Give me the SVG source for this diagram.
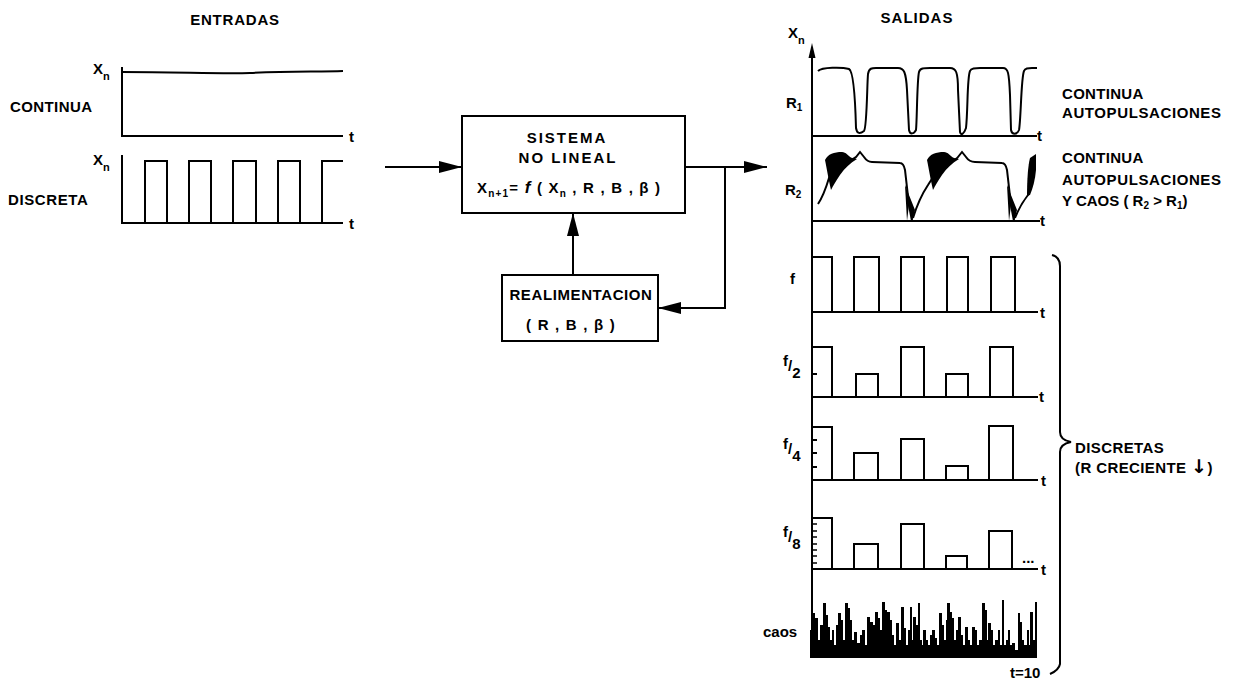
<svg xmlns="http://www.w3.org/2000/svg" width="1239" height="683" viewBox="0 0 1239 683">
<style>
.ln{fill:none;stroke:#000;stroke-width:2}
.th{fill:none;stroke:#000;stroke-width:1.6}
.fl{fill:#000;stroke:none}
.t{font-family:"Liberation Sans",Arial,sans-serif;font-weight:bold;fill:#000;font-size:15px}
.tc{text-anchor:middle}
</style>
<defs>
<marker id="ah" markerUnits="userSpaceOnUse" markerWidth="24" markerHeight="12" refX="23" refY="6" orient="auto">
<path d="M0,0 L23,6 L0,12 Z" fill="#000"/>
</marker>
</defs>
<rect width="1239" height="683" fill="#fff"/>

<g id="entradas">
<text class="t tc" x="235" y="25" font-size="16" letter-spacing="0.8">ENTRADAS</text>
<text class="t" x="93" y="74">X<tspan font-size="11" dy="6">n</tspan></text>
<text class="t" x="10" y="112" letter-spacing="0.4">CONTINUA</text>
<path class="ln" d="M122,67 V136 H343"/>
<path class="ln" d="M122,72 C180,72 220,74 250,73 C290,71 320,72 343,71"/>
<text class="t" x="349" y="142" font-size="16">t</text>
<text class="t" x="93" y="165">X<tspan font-size="11" dy="6">n</tspan></text>
<text class="t" x="8" y="205" letter-spacing="0.6">DISCRETA</text>
<path class="ln" d="M122,155 V223 H343"/>
<path class="ln" d="M145,223 V161 H167 V223 M189,223 V161 H211 V223 M233,223 V161 H256 V223 M278,223 V161 H300 V223 M322,223 V161 H343"/>
<text class="t" x="349" y="229" font-size="16">t</text>
</g>

<g id="sistema">
<rect class="ln" x="462" y="116" width="223" height="97"/>
<text class="t tc" x="567" y="143" letter-spacing="2">SISTEMA</text>
<text class="t tc" x="568" y="163" letter-spacing="2">NO LINEAL</text>
<text class="t" x="477" y="193" letter-spacing="1.2">X<tspan font-size="10" dy="4">n+1</tspan><tspan dy="-4">= </tspan><tspan font-style="italic" font-size="17">f</tspan><tspan> ( X</tspan><tspan font-size="10" dy="4">n</tspan><tspan dy="-4"> , R , B , β )</tspan></text>
</g>

<g id="realimentacion">
<rect class="ln" x="502" y="275" width="156" height="66"/>
<text class="t tc" x="581" y="300" letter-spacing="0.6">REALIMENTACION</text>
<text class="t tc" x="571" y="330" letter-spacing="1.2">( R , B , β )</text>
</g>

<g id="connectors">
<path class="ln" d="M385,167 H462" marker-end="url(#ah)"/>
<path class="ln" d="M685,167 H767" marker-end="url(#ah)"/>
<path class="ln" d="M725,167 V308 H658" marker-end="url(#ah)"/>
<path class="ln" d="M573,275 V213" marker-end="url(#ah)"/>
</g>

<g id="salidas">
<text class="t tc" x="917" y="23" letter-spacing="1">SALIDAS</text>
<text class="t" x="788" y="38">X<tspan font-size="11" dy="6">n</tspan></text>
<path class="ln" d="M812,658 V50"/>
<path class="fl" d="M808.5,58 L812,43 L815.5,58 Z"/>

<text class="t" x="786" y="108">R<tspan font-size="10" dy="3">1</tspan></text>
<path class="ln" d="M812,136 H1037"/>
<text class="t" x="1037" y="141" font-size="16">t</text>
<path class="ln" d="M818,71 C822,67 842,67 849,69 C853,71 855,90 856,128 C857,134 860,134 864,131 C867,127 867,85 868,74 C869,68 872,68 876,68 L898,68 C904,68 906,72 907,90 L909,130 C910,135 914,134 916,130 C917,122 917,80 919,72 C920,68 924,68 930,68 L950,68 C956,68 958,72 958,90 L960,132 C961,136 964,134 966,128 C968,110 967,78 970,71 C971,68 975,68 980,68 L1003,68 C1008,68 1009,72 1010,95 L1011,130 C1012,135 1017,135 1019,130 C1021,120 1021,78 1024,71 C1025,68 1028,68 1032,68 L1037,68"/>
<text class="t" x="1062" y="99" letter-spacing="0.3">CONTINUA</text>
<text class="t" x="1062" y="118" letter-spacing="0.6">AUTOPULSACIONES</text>

<text class="t" x="785" y="195">R<tspan font-size="10" dy="3">2</tspan></text>
<path class="ln" d="M812,221 H1040"/>
<text class="t" x="1040" y="226" font-size="16">t</text>
<path class="ln" d="M818,204 C822,198 826,188 829,178 C832,170 836,166 842,163 C848,161 853,160 856,157 L860,152 L864,157 C866,160 868,162 872,162 L900,163 C903,163 904,165 905,170 L909,205 L912,221 M913,218 C917,205 922,194 928,185 C934,175 940,168 946,164 C952,161 956,160 958,157 L962,152 L966,157 C968,160 970,162 975,162 L1002,163 C1005,163 1006,165 1007,170 L1011,205 L1014,221 M1015,218 C1019,208 1024,200 1028,195 L1030,185"/>
<path class="fl" d="M825,160 C828,154 834,152 842,152 C846,152 848,156 852,158 L857,159 C850,163 845,168 840,175 C836,181 833,186 831,190 C829,182 827,170 825,160 Z"/>
<path class="fl" d="M927,160 C930,154 936,152 944,152 C948,152 950,156 954,158 L959,159 C952,163 947,168 942,175 C938,181 935,186 933,190 C931,182 929,170 927,160 Z"/>
<path class="fl" d="M1027,196 C1027,180 1028,165 1030,158 L1036,154 L1036,170 C1035,180 1033,188 1030,195 Z"/>
<path class="fl" d="M905,185 L907,221 L909,205 L912,222 L915,210 Z"/>
<path class="fl" d="M1007,185 L1009,221 L1011,205 L1014,222 L1017,210 Z"/>
<text class="t" x="1062" y="163" letter-spacing="0.3">CONTINUA</text>
<text class="t" x="1062" y="185" letter-spacing="0.6">AUTOPULSACIONES</text>
<text class="t" x="1062" y="206">Y CAOS  ( R<tspan font-size="10" dy="3">2</tspan><tspan dy="-3"> &gt; R</tspan><tspan font-size="10" dy="3">1</tspan><tspan dy="-3">)</tspan></text>

<text class="t" x="790" y="284">f</text>
<path class="ln" d="M812,312 H1038"/>
<path class="ln" d="M812,257 H832 V312 M854,312 V257 H879 V312 M901,312 V257 H924 V312 M947,312 V257 H968 V312 M991,312 V257 H1015 V312"/>
<text class="t" x="1040" y="318" font-size="16">t</text>

<text class="t" x="783" y="366" font-size="12">f<tspan font-size="15" dy="5">/</tspan><tspan font-size="15" dy="7">2</tspan></text>
<path class="ln" d="M812,397 H1038"/>
<path class="ln" d="M812,347 H832 V397 M856,397 V374 H878 V397 M901,397 V347 H924 V397 M946,397 V374 H968 V397 M990,397 V347 H1013 V397 M812,374 H817"/>
<text class="t" x="1039" y="402" font-size="16">t</text>

<text class="t" x="783" y="449" font-size="12">f<tspan font-size="15" dy="5">/</tspan><tspan font-size="15" dy="7">4</tspan></text>
<path class="ln" d="M812,480 H1038"/>
<path class="ln" d="M812,427 H832 V480 M854,480 V453 H878 V480 M901,480 V439 H924 V480 M946,480 V466 H968 V480 M989,480 V426 H1013 V480 M812,440 H817 M812,453 H817 M812,467 H817"/>
<text class="t" x="1041" y="486" font-size="16">t</text>

<text class="t" x="783" y="537" font-size="12">f<tspan font-size="15" dy="5">/</tspan><tspan font-size="15" dy="7">8</tspan></text>
<path class="ln" d="M812,569 H1038"/>
<path class="ln" d="M812,518 H832 V569 M854,569 V544 H878 V569 M901,569 V524 H924 V569 M946,569 V556 H967 V569 M989,569 V531 H1012 V569"/>
<path class="th" d="M812,524 H817 M812,531 H817 M812,537 H817 M812,544 H817 M812,550 H817 M812,556 H817 M812,563 H817"/>
<text class="t" x="1022" y="563" font-size="12">...</text>
<text class="t" x="1041" y="575" font-size="16">t</text>

<text class="t" x="763" y="637">caos</text>
<path class="fl" d="M810,658 V630 H812 V613 H815 V618 H818 V640 H820 V625 H823 V603 H826 V615 H828 V627 H830 V640 H832 V630 H834 V645 H836 V625 H838 V613 H841 V620 H843 V640 H845 V603 H848 V608 H850 V620 H852 V640 H854 V632 H857 V643 H860 V635 H862 V630 H865 V645 H867 V617 H870 V622 H873 V625 H875 V612 H878 V618 H880 V630 H882 V602 H885 V610 H887 V612 H890 V620 H892 V635 H894 V645 H896 V623 H899 V640 H901 V607 H904 V628 H906 V645 H908 V630 H910 V607 H912 V640 H913 V617 H916 V625 H918 V603 H920 V640 H922 V645 H923 V630 H926 V640 H928 V645 H930 V635 H932 V630 H935 V638 H937 V645 H939 V613 H942 V625 H944 V640 H946 V620 H947 V603 H950 V612 H952 V618 H954 V640 H956 V630 H958 V617 H961 V635 H963 V645 H965 V627 H968 V640 H970 V645 H972 V627 H975 V630 H977 V645 H979 V640 H982 V603 H985 V610 H987 V640 H988 V623 H991 V630 H993 V645 H995 V640 H998 V630 H1000 V645 H1002 V600 H1004 V645 H1006 V640 H1008 V630 H1010 V645 H1012 V643 H1015 V650 H1018 V613 H1020 V622 H1022 V640 H1024 V645 H1027 V630 H1029 V645 H1030 V612 H1033 V640 H1035 V602 H1037 V658 Z"/>
<text class="t" x="1010" y="678">t=10</text>

<path class="ln" d="M1052,255 Q1060,257 1060,266 V432 Q1060,440 1071,442 Q1060,444 1060,452 V664 Q1059,670 1050,674"/>
<text class="t" x="1075" y="453" letter-spacing="0.4">DISCRETAS</text>
<text class="t" x="1075" y="473" letter-spacing="0.4">(R CRECIENTE <tspan font-family="DejaVu Sans, sans-serif" font-size="19">↓</tspan>)</text>
</g>
</svg>
